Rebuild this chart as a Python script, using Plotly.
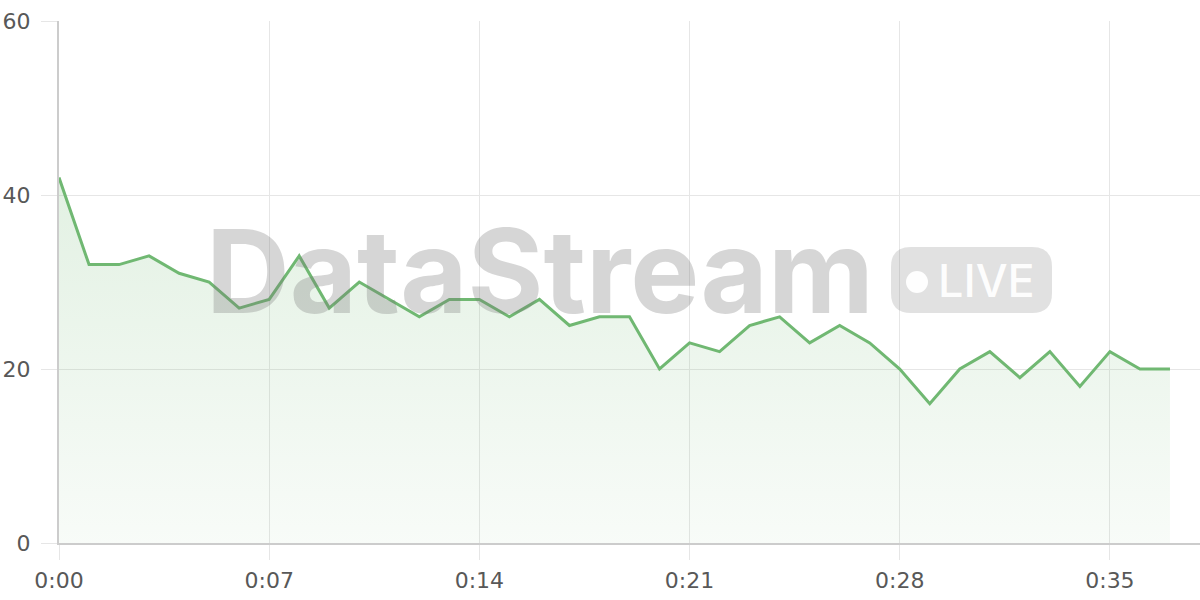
import plotly.graph_objects as go

seconds = list(range(38))
values = [42, 32, 32, 33, 31, 30, 27, 28, 33, 27, 30, 28, 26, 28, 28, 26, 28, 25, 26, 26,
          20, 23, 22, 25, 26, 23, 25, 23, 20, 16, 20, 22, 19, 22, 18, 22, 20, 20]
tick_vals = [0, 7, 14, 21, 28, 35]
tick_text = ["0:00", "0:07", "0:14", "0:21", "0:28", "0:35"]

GREEN = "#70b872"
GRID = "#e6e6e6"
TXT = "#585858"

fig = go.Figure()
fig.add_trace(go.Scatter(
    x=seconds, y=values, mode="lines",
    line=dict(color=GREEN, width=3),
    fill="tozeroy",
    fillgradient=dict(type="vertical",
                      colorscale=[[0, "rgba(112,184,114,0.05)"], [1, "rgba(112,184,114,0.2)"]]),
    hoverinfo="skip",
))

# watermark badge (rounded rect) in data coordinates
px_x = 38 / 1141.0
px_y = 60 / 522.0
def xd(px):
    return (px - 59) * px_x
def yd(py):
    return (543 - py) * px_y
x0, x1, y0, y1, r = 891, 1052, 247, 313, 20
path = (f"M {xd(x0+r)},{yd(y0)} L {xd(x1-r)},{yd(y0)} Q {xd(x1)},{yd(y0)} {xd(x1)},{yd(y0+r)} "
        f"L {xd(x1)},{yd(y1-r)} Q {xd(x1)},{yd(y1)} {xd(x1-r)},{yd(y1)} "
        f"L {xd(x0+r)},{yd(y1)} Q {xd(x0)},{yd(y1)} {xd(x0)},{yd(y1-r)} "
        f"L {xd(x0)},{yd(y0+r)} Q {xd(x0)},{yd(y0)} {xd(x0+r)},{yd(y0)} Z")
fig.add_shape(type="path", path=path, xref="x", yref="y", layer="above",
              fillcolor="rgba(120,120,120,0.22)", line=dict(width=0))
fig.add_shape(type="circle", xref="x", yref="y", layer="above",
              x0=xd(906), x1=xd(928), y0=yd(293), y1=yd(271),
              fillcolor="rgba(255,255,255,0.95)", line=dict(width=0))

fig.add_annotation(x=xd(540), y=yd(271), xref="x", yref="y", text="DataStream",
                   showarrow=False,
                   font=dict(family="Inter", size=116, weight="bold", color="rgba(120,120,120,0.3)"))
fig.add_annotation(x=xd(986), y=yd(280), xref="x", yref="y", text="LIVE",
                   showarrow=False,
                   font=dict(family="Inter", size=45, weight=500, color="rgba(255,255,255,0.95)"))

fig.update_layout(
    width=1200, height=600,
    margin=dict(l=59, r=0, t=21, b=57),
    paper_bgcolor="white", plot_bgcolor="white",
    showlegend=False,
    font=dict(family="DejaVu Sans", size=22, color=TXT),
)
fig.update_xaxes(range=[0, 38], tickvals=tick_vals, ticktext=tick_text,
                 showgrid=True, gridcolor=GRID, gridwidth=1,
                 ticks="outside", ticklen=15, tickcolor=GRID,
                 showline=True, linecolor="#cccccc", linewidth=2,
                 zeroline=False, ticklabelstandoff=2, automargin=False)
fig.update_yaxes(range=[0, 60], tickvals=[0, 20, 40, 60],
                 showgrid=True, gridcolor=GRID, gridwidth=1,
                 ticks="outside", ticklen=16, tickcolor=GRID,
                 showline=True, linecolor="#cccccc", linewidth=2,
                 zeroline=False, ticklabelstandoff=6, automargin=False)

fig.write_html("out.html", config={"displayModeBar": False},
               post_script="document.body.style.margin='0';document.body.style.overflow='hidden';")
